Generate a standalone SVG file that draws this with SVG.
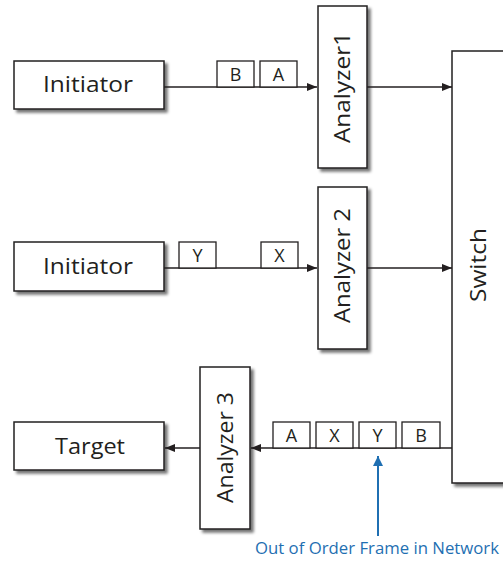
<svg xmlns="http://www.w3.org/2000/svg" width="503" height="561" viewBox="0 0 503 561">
<defs>
<filter id="sh" x="-20%" y="-20%" width="140%" height="140%">
<feGaussianBlur in="SourceAlpha" stdDeviation="1.6"/>
<feOffset dx="3" dy="3" result="b"/>
<feComponentTransfer><feFuncA type="linear" slope="0.55"/></feComponentTransfer>
<feMerge><feMergeNode/><feMergeNode in="SourceGraphic"/></feMerge>
</filter>
<marker id="ah" viewBox="0 0 10 8" refX="10" refY="4" markerWidth="10" markerHeight="8" markerUnits="userSpaceOnUse" orient="auto">
<path d="M0,0 L10,4 L0,8 Z" fill="#231f20"/>
</marker>
<marker id="ahb" viewBox="0 0 10 10" refX="10" refY="5" markerWidth="10" markerHeight="10" markerUnits="userSpaceOnUse" orient="auto">
<path d="M0,0 L10,5 L0,10 Z" fill="#1f6fb2"/>
</marker>
</defs>
<style>
.box{fill:#fff;stroke:#231f20;stroke-width:1.5;filter:url(#sh)}
.pk{fill:#fff;stroke:#231f20;stroke-width:1.3}
.t{font-family:"Open Sans","Liberation Sans",sans-serif;fill:#231f20}
.lbl{font-size:22px}
.pt{font-size:18px;text-anchor:middle}
.ln{stroke:#231f20;stroke-width:1.5;fill:none}
</style>
<g id="initiator1"><rect class="box" x="14" y="61" width="150" height="48"/>
<text class="t lbl" x="43" y="92" textLength="90" lengthAdjust="spacingAndGlyphs">Initiator</text></g>
<g id="initiator2"><rect class="box" x="14" y="242" width="150" height="49"/>
<text class="t lbl" x="43" y="274" textLength="90" lengthAdjust="spacingAndGlyphs">Initiator</text></g>
<g id="target"><rect class="box" x="14" y="422" width="150" height="48"/>
<text class="t lbl" x="55" y="454" textLength="70" lengthAdjust="spacingAndGlyphs">Target</text></g>
<g id="analyzer1"><rect class="box" x="318" y="6" width="49" height="162"/>
<text class="t lbl" transform="translate(350,143) rotate(-90)" textLength="111" lengthAdjust="spacingAndGlyphs">Analyzer1</text></g>
<g id="analyzer2"><rect class="box" x="318" y="187" width="49" height="162"/>
<text class="t lbl" transform="translate(350,323) rotate(-90)" textLength="115" lengthAdjust="spacingAndGlyphs">Analyzer 2</text></g>
<g id="analyzer3"><rect class="box" x="200" y="367" width="50" height="162"/>
<text class="t lbl" transform="translate(233,503) rotate(-90)" textLength="111" lengthAdjust="spacingAndGlyphs">Analyzer 3</text></g>
<g id="switch"><rect class="box" x="452" y="51" width="60" height="432"/>
<text class="t lbl" transform="translate(486,302) rotate(-90)" textLength="74" lengthAdjust="spacingAndGlyphs">Switch</text></g>
<g id="connectors">
<line class="ln" x1="164" y1="87" x2="317" y2="87" marker-end="url(#ah)"/>
<line class="ln" x1="367" y1="87" x2="452" y2="87" marker-end="url(#ah)"/>
<line class="ln" x1="164" y1="268" x2="317" y2="268" marker-end="url(#ah)"/>
<line class="ln" x1="367" y1="268" x2="452" y2="268" marker-end="url(#ah)"/>
<line class="ln" x1="452" y1="448" x2="251" y2="448" marker-end="url(#ah)"/>
<line class="ln" x1="200" y1="448" x2="165" y2="448" marker-end="url(#ah)"/>
<line x1="378" y1="536" x2="378" y2="456" stroke="#1f6fb2" stroke-width="2" marker-end="url(#ahb)"/>
</g>
<g id="packets">
<rect class="pk" x="217" y="61" width="37" height="26"/><text class="t pt" x="235.5" y="80.5">B</text>
<rect class="pk" x="260" y="61" width="37" height="26"/><text class="t pt" x="278.5" y="80.5">A</text>
<rect class="pk" x="179" y="242" width="37" height="26"/><text class="t pt" x="197.5" y="261.5">Y</text>
<rect class="pk" x="261" y="242" width="37" height="26"/><text class="t pt" x="279.5" y="261.5">X</text>
<rect class="pk" x="273" y="422" width="37" height="26"/><text class="t pt" x="291.5" y="441.5">A</text>
<rect class="pk" x="316" y="422" width="37" height="26"/><text class="t pt" x="334.5" y="441.5">X</text>
<rect class="pk" x="359" y="422" width="37" height="26"/><text class="t pt" x="377.5" y="441.5">Y</text>
<rect class="pk" x="402" y="422" width="38" height="26"/><text class="t pt" x="421" y="441.5">B</text>
</g>
<text x="255" y="554" textLength="244" lengthAdjust="spacingAndGlyphs" style="font-family:'Open Sans','Liberation Sans',sans-serif;font-size:17px;fill:#1f6fb2">Out of Order Frame in Network</text>
</svg>
